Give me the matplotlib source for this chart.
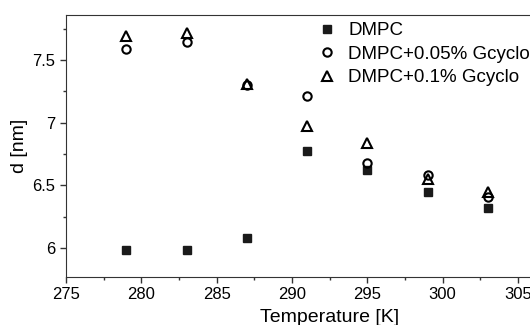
import numpy as np
import matplotlib
matplotlib.use('Agg')
import matplotlib.pyplot as plt
from matplotlib.ticker import MultipleLocator

plt.rcParams['font.family'] = ['Liberation Sans', 'DejaVu Sans']

temp = [279, 283, 287, 291, 295, 299, 303]
d_dmpc = [5.98, 5.98, 6.075, 6.77, 6.62, 6.45, 6.32]
d_005 = [7.585, 7.64, 7.30, 7.215, 6.675, 6.585, 6.41]
d_01 = [7.69, 7.715, 7.305, 6.97, 6.84, 6.55, 6.45]
labels = ['DMPC', 'DMPC+0.05% Gcyclo', 'DMPC+0.1% Gcyclo']

fig = plt.figure(figsize=(5.3, 3.25), dpi=100)
ax = fig.add_axes([0.1245, 0.148, 0.995, 0.806])

ax.plot(temp, d_dmpc, 's', color='#1a1a1a', ms=5.5, ls='none', label=labels[0])
ax.plot(temp, d_005, 'o', mfc='none', mec='black', mew=1.5, ms=6, ls='none', label=labels[1])
ax.plot(temp, d_01, '^', mfc='none', mec='black', mew=1.5, ms=7.5, ls='none', label=labels[2])

ax.set_xlim(275, 310)
ax.set_ylim(5.768, 7.86)
ax.xaxis.set_major_locator(MultipleLocator(5))
ax.xaxis.set_minor_locator(MultipleLocator(2.5))
ax.yaxis.set_major_locator(MultipleLocator(0.5))
ax.yaxis.set_minor_locator(MultipleLocator(0.25))
ax.yaxis.set_major_formatter(matplotlib.ticker.FuncFormatter(lambda v, p: ('%g' % v)))
ax.tick_params(which='major', direction='out', length=4, width=1, labelsize=12, color='#333333')
ax.tick_params(which='minor', direction='out', length=2.5, width=1, color='#333333')
ax.spines['right'].set_visible(False)
for s in ['left', 'bottom', 'top']:
    ax.spines[s].set_color('#333333')

ax.set_xlabel('Temperature [K]', fontsize=14, labelpad=5)
ax.set_ylabel('d [nm]', fontsize=14, labelpad=3)

ax.legend(loc='upper left', bbox_to_anchor=(318 / 530, 1 - 22 / 325), bbox_transform=fig.transFigure,
          frameon=False, fontsize=13.5, handlelength=1.0, handletextpad=0.6, labelspacing=0.35,
          borderpad=0, borderaxespad=0)

fig.savefig('out.png', dpi=100)
